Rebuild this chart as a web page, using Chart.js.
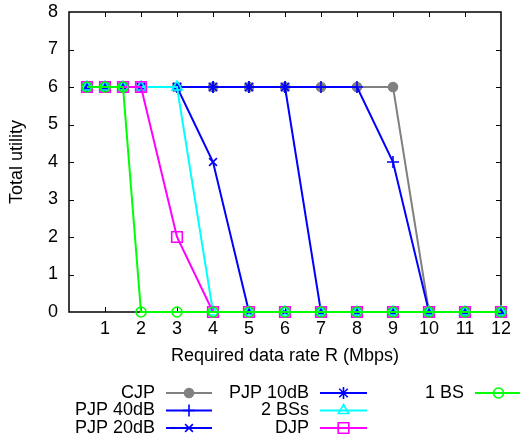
<!DOCTYPE html>
<html>
<head>
<meta charset="utf-8">
<script src="https://cdn.jsdelivr.net/npm/chart.js"></script>
<style>
  html, body { margin: 0; padding: 0; background: #fff; }
  #wrap { width: 520px; height: 440px; }
</style>
</head>
<body>
<div id="wrap"><canvas id="grafico" width="520" height="440"></canvas></div>
<script>
// data rate R (Mbps)
const taxas = [0.5, 1, 1.5, 2, 3, 4, 5, 6, 7, 8, 9, 10, 11, 12];

const cjp    = [6, 6, 6, 6, 6, 6, 6, 6, 6, 6, 6, 0, 0, 0];
const pjp40  = [6, 6, 6, 6, 6, 6, 6, 6, 6, 6, 4, 0, 0, 0];
const pjp20  = [6, 6, 6, 6, 6, 4, 0, 0, 0, 0, 0, 0, 0, 0];
const pjp10  = [6, 6, 6, 6, 6, 6, 6, 6, 0, 0, 0, 0, 0, 0];
const bs2    = [6, 6, 6, 6, 6, 0, 0, 0, 0, 0, 0, 0, 0, 0];
const djp    = [6, 6, 6, 6, 2, 0, 0, 0, 0, 0, 0, 0, 0, 0];
const bs1    = [6, 6, 6, 0, 0, 0, 0, 0, 0, 0, 0, 0, 0, 0];

const nomes = ['CJP', 'PJP 40dB', 'PJP 20dB', 'PJP 10dB', '2 BSs', 'DJP', '1 BS'];
const series = [cjp, pjp40, pjp20, pjp10, bs2, djp, bs1];

const FONTE = 'Liberation Sans, Arial, Helvetica, sans-serif';

// estilo de cada serie (cor, marcador)
const estilos = [
    { cor: '#808080', ponto: 'circle',   raio: 4.5, fundo: '#808080' },
    { cor: '#0000ff', ponto: 'cross',    raio: 6,   fundo: 'rgba(0,0,0,0)' },
    { cor: '#0000ff', ponto: 'crossRot', raio: 5.5, fundo: 'rgba(0,0,0,0)' },
    { cor: '#0000ff', ponto: 'star',     raio: 6,   fundo: 'rgba(0,0,0,0)' },
    { cor: '#00ffff', ponto: 'triangle', raio: 6,   fundo: 'rgba(0,0,0,0)' },
    { cor: '#ff00ff', ponto: 'rect',     raio: 7.5, fundo: 'rgba(0,0,0,0)' },
    { cor: '#00ff00', ponto: 'circle',   raio: 5,   fundo: 'rgba(0,0,0,0)' }
];

const datasets = series.map((valores, i) => ({
    label: nomes[i],
    data: valores.map((v, j) => ({ x: taxas[j], y: v })),
    borderColor: estilos[i].cor,
    backgroundColor: estilos[i].fundo,
    borderWidth: 2,
    pointStyle: estilos[i].ponto,
    pointRadius: estilos[i].raio,
    pointBorderWidth: 1.6,
    pointBorderColor: estilos[i].cor,
    pointBackgroundColor: estilos[i].fundo,
    tension: 0,
    clip: false,
    order: series.length - 1 - i // o ultimo (1 BS) fica por cima
}));

// moldura com ticks para dentro, estilo gnuplot
const moldura = {
    id: 'moldura',
    beforeDatasetsDraw(chart) {
        const { ctx, chartArea: a, scales } = chart;
        ctx.save();
        ctx.strokeStyle = '#000';
        ctx.lineWidth = 1.5;
        ctx.strokeRect(a.left, a.top, a.right - a.left, a.bottom - a.top);
        ctx.lineWidth = 1;
        ctx.beginPath();
        for (let v = 1; v < 12; v++) {
            const px = Math.round(scales.x.getPixelForValue(v)) + 0.5;
            ctx.moveTo(px, a.bottom); ctx.lineTo(px, a.bottom - 5);
            ctx.moveTo(px, a.top); ctx.lineTo(px, a.top + 5);
        }
        for (let v = 1; v < 8; v++) {
            const py = Math.round(scales.y.getPixelForValue(v)) + 0.5;
            ctx.moveTo(a.left, py); ctx.lineTo(a.left + 5, py);
            ctx.moveTo(a.right, py); ctx.lineTo(a.right - 5, py);
        }
        ctx.stroke();
        ctx.restore();
    }
};

// legenda em 3 colunas, texto a direita alinhado e amostra depois
const legenda = {
    id: 'legenda',
    afterDraw(chart) {
        const ctx = chart.ctx;
        const colunas = [
            { textoX: 155, linha: [166, 212] },
            { textoX: 309, linha: [320, 367] },
            { textoX: 464, linha: [475, 522] }
        ];
        const linhasY = [393, 410.5, 428];
        const posicoes = [[0, 0], [0, 1], [0, 2], [1, 0], [1, 1], [1, 2], [2, 0]];
        ctx.save();
        ctx.font = '18px ' + FONTE;
        ctx.textAlign = 'right';
        ctx.textBaseline = 'middle';
        posicoes.forEach(([c, r], i) => {
            const col = colunas[c];
            const y = linhasY[r];
            ctx.fillStyle = '#000';
            ctx.fillText(nomes[i], col.textoX, y);
            ctx.strokeStyle = estilos[i].cor;
            ctx.lineWidth = 2;
            ctx.beginPath();
            ctx.moveTo(col.linha[0], y);
            ctx.lineTo(col.linha[1], y);
            ctx.stroke();
            ctx.fillStyle = estilos[i].fundo;
            ctx.lineWidth = 1.6;
            const meio = (col.linha[0] + col.linha[1]) / 2;
            Chart.helpers.drawPoint(ctx, {
                pointStyle: estilos[i].ponto,
                radius: estilos[i].raio,
                rotation: 0,
                borderWidth: 1.6
            }, meio, y);
        });
        ctx.restore();
    }
};

new Chart(document.getElementById('grafico'), {
    type: 'line',
    data: { datasets: datasets },
    options: {
        responsive: false,
        animation: false,
        events: [],
        layout: { padding: { top: 12, right: 19, left: 0, bottom: 0 } },
        plugins: { legend: { display: false }, tooltip: { enabled: false } },
        scales: {
            x: {
                type: 'linear',
                min: 0,
                max: 12,
                grid: { display: false, drawTicks: false },
                border: { display: false },
                ticks: {
                    stepSize: 1,
                    autoSkip: false,
                    maxRotation: 0,
                    padding: 6,
                    color: '#000',
                    font: { family: FONTE, size: 18 },
                    callback: v => (v === 0 ? '' : v)
                },
                title: {
                    display: true,
                    text: 'Required data rate R (Mbps)',
                    color: '#000',
                    font: { family: FONTE, size: 18 },
                    padding: { top: 0, bottom: 73 }
                },
                afterFit(s) {
                    s.height = 128;
                    s.paddingLeft = 0;
                    s.paddingRight = 0;
                }
            },
            y: {
                min: 0,
                max: 8,
                grid: { display: false, drawTicks: false },
                border: { display: false },
                ticks: {
                    stepSize: 1,
                    padding: 11,
                    color: '#000',
                    font: { family: FONTE, size: 18 }
                },
                title: {
                    display: true,
                    text: 'Total utility',
                    color: '#000',
                    font: { family: FONTE, size: 18 },
                    padding: { top: 6, bottom: 0 }
                },
                afterFit(s) {
                    s.width = 69;
                    s.paddingTop = 0;
                    s.paddingBottom = 0;
                }
            }
        }
    },
    plugins: [moldura, legenda]
});
</script>
</body>
</html>
